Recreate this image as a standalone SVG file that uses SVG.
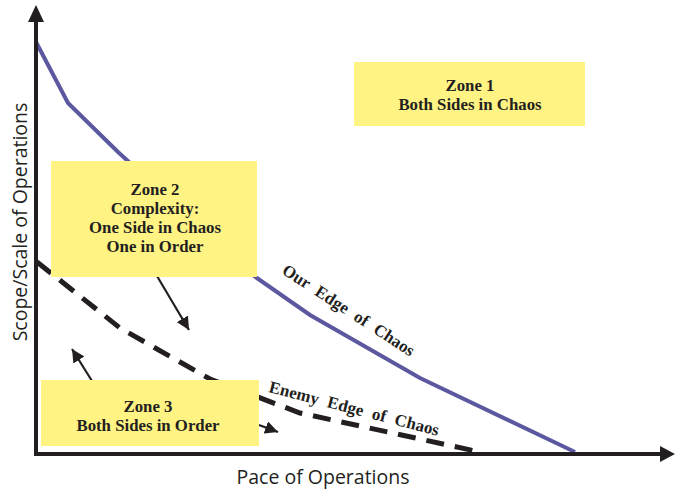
<svg xmlns="http://www.w3.org/2000/svg" width="675" height="491" viewBox="0 0 675 491">
<defs>
<style>
.zone{fill:#fff384;}
.zt{font-family:"Liberation Serif","DejaVu Serif",serif;font-weight:bold;font-size:16.8px;fill:#231f20;text-anchor:middle;}
.ax{font-family:"Open Sans","Liberation Sans",sans-serif;font-size:19.5px;fill:#231f20;}
.lbl{font-family:"Liberation Serif","DejaVu Serif",serif;font-size:17px;fill:#231f20;font-weight:bold;word-spacing:5px;}
.arr{stroke:#231f20;stroke-width:2.2;fill:none;}
</style>
<marker id="ahs" viewBox="0 0 10 10" refX="10" refY="5" markerWidth="13" markerHeight="13" orient="auto" markerUnits="userSpaceOnUse">
<path d="M0,0 L10,5 L0,10 z" fill="#231f20"/>
</marker>
</defs>
<rect width="675" height="491" fill="#ffffff"/>
<g id="connectors">
<polyline id="our-edge" points="36,42 68,103 118,152 254,276 310,315 420,378 575,452" fill="none" stroke="#5b58a0" stroke-width="4"/>
<polyline id="enemy-edge" points="37,262 120,328 210,379 300,413 480,452" fill="none" stroke="#231f20" stroke-width="5" stroke-dasharray="18,11"/>
<line class="arr" x1="157" y1="276" x2="189" y2="330" marker-end="url(#ahs)"/>
<line class="arr" x1="92" y1="381" x2="72" y2="349" marker-end="url(#ahs)"/>
<line class="arr" x1="259" y1="425" x2="278" y2="432" marker-end="url(#ahs)"/>
</g>
<g id="axes">
<line x1="36" y1="20" x2="36" y2="456" stroke="#231f20" stroke-width="4"/>
<path d="M28,22 L36,5 L44,22 z" fill="#231f20"/>
<line x1="34" y1="454" x2="662" y2="454" stroke="#231f20" stroke-width="4"/>
<path d="M660,446 L675,454 L660,462 z" fill="#231f20"/>
<text class="ax" x="323" y="484" text-anchor="middle">Pace of Operations</text>
<text class="ax" transform="translate(27,222) rotate(-90)" text-anchor="middle">Scope/Scale of Operations</text>
</g>
<g id="zone1">
<rect class="zone" x="354" y="62" width="231" height="64"/>
<text class="zt" x="470" y="91">Zone 1</text>
<text class="zt" x="470" y="110">Both Sides in Chaos</text>
</g>
<g id="zone2">
<rect class="zone" x="51" y="161" width="206" height="116"/>
<text class="zt" x="155" y="195">Zone 2</text>
<text class="zt" x="155" y="214">Complexity:</text>
<text class="zt" x="155" y="233">One Side in Chaos</text>
<text class="zt" x="155" y="252">One in Order</text>
</g>
<g id="zone3">
<rect class="zone" x="41" y="380" width="218" height="66"/>
<text class="zt" x="148" y="412">Zone 3</text>
<text class="zt" x="148" y="431">Both Sides in Order</text>
</g>
<g id="labels">
<text class="lbl" transform="translate(281,273) rotate(33)">Our Edge of Chaos</text>
<text class="lbl" transform="translate(268,392) rotate(14.5)">Enemy Edge of Chaos</text>
</g>
</svg>
